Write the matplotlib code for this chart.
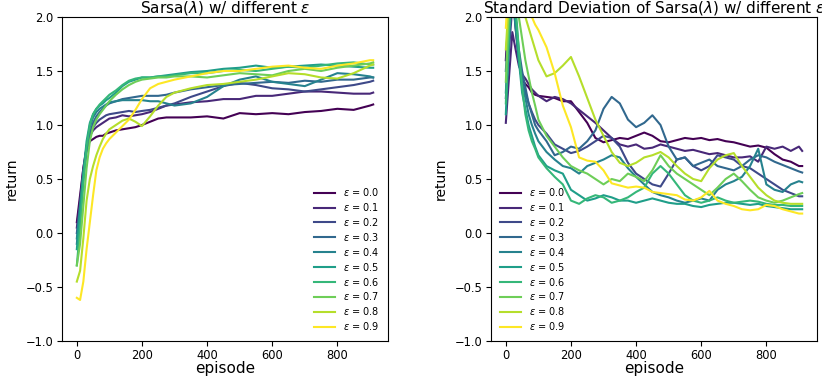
import matplotlib
matplotlib.use("Agg")
import matplotlib.pyplot as plt
import numpy as np

eps_labels = ["0.0", "0.1", "0.2", "0.3", "0.4", "0.5", "0.6", "0.7", "0.8", "0.9"]

# ---- left panel: mean return ----
ep_left = [0, 10, 20, 30, 40, 50, 60, 70, 80, 90, 100, 120, 140, 160, 180, 200, 225, 250, 275, 300,
           350, 400, 450, 500, 550, 600, 650, 700, 750, 800, 850, 900, 910]

ret_e00 = [0.10, 0.35, 0.60, 0.78, 0.85, 0.87, 0.89, 0.90, 0.90, 0.92, 0.93, 0.95, 0.96, 0.97, 0.98, 1.00, 1.03, 1.06, 1.07, 1.07,
           1.07, 1.08, 1.06, 1.11, 1.10, 1.11, 1.10, 1.12, 1.13, 1.15, 1.14, 1.18, 1.19]
ret_e01 = [0.05, 0.30, 0.60, 0.80, 0.90, 0.95, 0.98, 1.00, 1.02, 1.04, 1.06, 1.07, 1.09, 1.08, 1.09, 1.10, 1.12, 1.15, 1.18, 1.19,
           1.21, 1.22, 1.24, 1.24, 1.27, 1.27, 1.29, 1.31, 1.31, 1.30, 1.29, 1.29, 1.30]
ret_e02 = [0.00, 0.25, 0.55, 0.78, 0.92, 0.98, 1.02, 1.05, 1.07, 1.09, 1.10, 1.11, 1.12, 1.13, 1.12, 1.13, 1.14, 1.16, 1.18, 1.20,
           1.26, 1.31, 1.36, 1.39, 1.37, 1.34, 1.33, 1.31, 1.33, 1.35, 1.37, 1.40, 1.41]
ret_e03 = [-0.10, 0.20, 0.50, 0.75, 0.92, 1.02, 1.08, 1.12, 1.15, 1.18, 1.20, 1.22, 1.24, 1.25, 1.26, 1.27, 1.27, 1.27, 1.28, 1.30,
           1.33, 1.35, 1.37, 1.38, 1.39, 1.40, 1.39, 1.41, 1.40, 1.42, 1.42, 1.44, 1.44]
ret_e04 = [-0.05, 0.25, 0.55, 0.80, 0.98, 1.07, 1.12, 1.15, 1.17, 1.19, 1.21, 1.22, 1.23, 1.23, 1.23, 1.23, 1.22, 1.22, 1.20, 1.18,
           1.20, 1.26, 1.36, 1.42, 1.45, 1.40, 1.38, 1.36, 1.42, 1.48, 1.47, 1.45, 1.44]
ret_e05 = [-0.15, 0.20, 0.55, 0.85, 1.02, 1.10, 1.15, 1.18, 1.20, 1.23, 1.25, 1.30, 1.36, 1.40, 1.42, 1.44, 1.44, 1.45, 1.46, 1.47,
           1.49, 1.50, 1.52, 1.53, 1.55, 1.53, 1.54, 1.55, 1.56, 1.55, 1.54, 1.53, 1.53]
ret_e06 = [-0.30, 0.05, 0.45, 0.80, 1.00, 1.10, 1.15, 1.19, 1.22, 1.25, 1.28, 1.32, 1.37, 1.41, 1.43, 1.44, 1.44, 1.45, 1.45, 1.46,
           1.48, 1.48, 1.50, 1.51, 1.50, 1.52, 1.54, 1.53, 1.55, 1.57, 1.58, 1.56, 1.56]
ret_e07 = [-0.30, -0.10, 0.25, 0.60, 0.85, 0.98, 1.05, 1.10, 1.14, 1.18, 1.22, 1.28, 1.33, 1.37, 1.40, 1.42, 1.43, 1.44, 1.44, 1.45,
           1.45, 1.44, 1.46, 1.48, 1.47, 1.46, 1.50, 1.52, 1.50, 1.53, 1.55, 1.57, 1.58]
ret_e08 = [-0.45, -0.35, -0.05, 0.30, 0.50, 0.62, 0.72, 0.80, 0.87, 0.92, 0.96, 1.00, 1.04, 1.06, 1.03, 0.99, 1.08, 1.18, 1.26, 1.30,
           1.34, 1.37, 1.38, 1.40, 1.42, 1.45, 1.48, 1.47, 1.44, 1.43, 1.48, 1.55, 1.56]
ret_e09 = [-0.60, -0.62, -0.45, -0.15, 0.10, 0.35, 0.58, 0.70, 0.78, 0.83, 0.87, 0.93, 0.99, 1.05, 1.14, 1.24, 1.34, 1.38, 1.40, 1.42,
           1.45, 1.48, 1.50, 1.50, 1.52, 1.54, 1.55, 1.53, 1.52, 1.55, 1.57, 1.60, 1.60]

# ---- right panel: standard deviation ----
ep_right = [0, 10, 20, 30, 40, 50, 60, 70, 80, 90, 100, 125, 150, 175, 200, 225, 250, 275, 300, 325, 350,
            375, 400, 425, 450, 475, 500, 525, 550, 575, 600, 625, 650, 675, 700, 725, 750, 775, 800, 825,
            850, 875, 900, 910]

std_e00 = [1.60, 2.10, 2.30, 1.90, 1.60, 1.42, 1.38, 1.35, 1.30, 1.28, 1.27, 1.26, 1.25, 1.22, 1.22, 1.12, 1.02, 0.88, 0.84, 0.86, 0.88,
           0.87, 0.90, 0.93, 0.90, 0.85, 0.84, 0.86, 0.88, 0.87, 0.88, 0.86, 0.87, 0.85, 0.84, 0.82, 0.80, 0.81, 0.79, 0.73,
           0.68, 0.66, 0.62, 0.62]
std_e01 = [1.02, 1.45, 1.86, 1.70, 1.55, 1.47, 1.43, 1.38, 1.33, 1.30, 1.27, 1.22, 1.26, 1.24, 1.20, 1.14, 1.08, 1.02, 0.95, 0.88, 0.82,
           0.80, 0.82, 0.78, 0.79, 0.82, 0.80, 0.78, 0.76, 0.77, 0.75, 0.73, 0.74, 0.72, 0.70, 0.70, 0.71, 0.66, 0.80, 0.78,
           0.80, 0.76, 0.80, 0.76]
std_e02 = [1.25, 1.70, 2.10, 2.00, 1.60, 1.40, 1.30, 1.20, 1.12, 1.05, 1.00, 0.92, 0.82, 0.78, 0.74, 0.76, 0.80, 0.85, 0.90, 0.88, 0.80,
           0.65, 0.55, 0.50, 0.45, 0.43, 0.55, 0.68, 0.70, 0.62, 0.58, 0.62, 0.72, 0.70, 0.68, 0.62, 0.60, 0.55, 0.50, 0.45,
           0.40, 0.37, 0.34, 0.34]
std_e03 = [1.50, 2.00, 2.40, 2.00, 1.70, 1.50, 1.35, 1.20, 1.10, 1.00, 0.95, 0.85, 0.72, 0.75, 0.80, 0.78, 0.85, 0.95, 1.15, 1.26, 1.20,
           1.05, 0.98, 1.02, 1.09, 1.00, 0.80, 0.68, 0.70, 0.62, 0.65, 0.68, 0.62, 0.60, 0.58, 0.62, 0.68, 0.72, 0.70, 0.66,
           0.63, 0.60, 0.57, 0.56]
std_e04 = [1.30, 1.90, 2.20, 1.90, 1.60, 1.40, 1.25, 1.10, 1.00, 0.92, 0.85, 0.75, 0.68, 0.62, 0.60, 0.55, 0.62, 0.65, 0.68, 0.72, 0.70,
           0.60, 0.52, 0.45, 0.38, 0.35, 0.33, 0.30, 0.28, 0.30, 0.32, 0.30, 0.40, 0.45, 0.48, 0.52, 0.62, 0.78, 0.45, 0.40,
           0.38, 0.45, 0.48, 0.47]
std_e05 = [1.10, 1.80, 2.30, 2.00, 1.60, 1.30, 1.15, 1.00, 0.90, 0.80, 0.72, 0.62, 0.58, 0.55, 0.40, 0.35, 0.30, 0.32, 0.35, 0.33, 0.30,
           0.30, 0.28, 0.30, 0.32, 0.30, 0.28, 0.27, 0.27, 0.25, 0.24, 0.26, 0.27, 0.28, 0.28, 0.27, 0.26, 0.27, 0.25, 0.24,
           0.23, 0.22, 0.22, 0.22]
std_e06 = [1.20, 1.90, 2.30, 2.10, 1.70, 1.35, 1.10, 0.95, 0.85, 0.78, 0.70, 0.60, 0.52, 0.45, 0.30, 0.27, 0.32, 0.35, 0.33, 0.28, 0.30,
           0.33, 0.38, 0.42, 0.55, 0.62, 0.55, 0.45, 0.35, 0.30, 0.28, 0.30, 0.33, 0.30, 0.28, 0.29, 0.30, 0.29, 0.27, 0.26,
           0.26, 0.25, 0.25, 0.25]
std_e07 = [1.40, 2.10, 2.40, 2.20, 2.00, 1.80, 1.60, 1.45, 1.30, 1.18, 1.05, 0.90, 0.80, 0.70, 0.62, 0.58, 0.55, 0.50, 0.45, 0.50, 0.48,
           0.55, 0.52, 0.48, 0.58, 0.72, 0.62, 0.55, 0.50, 0.45, 0.40, 0.35, 0.42, 0.50, 0.55, 0.48, 0.40, 0.33, 0.30, 0.28,
           0.30, 0.33, 0.36, 0.37]
std_e08 = [1.70, 2.20, 2.50, 2.30, 2.20, 2.10, 2.00, 1.90, 1.80, 1.70, 1.60, 1.45, 1.48, 1.55, 1.63, 1.45, 1.25, 1.05, 0.90, 0.75, 0.65,
           0.62, 0.65, 0.70, 0.72, 0.75, 0.70, 0.62, 0.55, 0.50, 0.48, 0.60, 0.68, 0.72, 0.74, 0.62, 0.52, 0.42, 0.35, 0.30,
           0.28, 0.27, 0.27, 0.27]
std_e09 = [1.90, 2.40, 2.60, 2.50, 2.40, 2.30, 2.20, 2.10, 2.00, 1.93, 1.88, 1.72, 1.48, 1.18, 0.98, 0.70, 0.67, 0.66, 0.58, 0.46, 0.44,
           0.42, 0.43, 0.42, 0.38, 0.37, 0.36, 0.35, 0.31, 0.30, 0.33, 0.39, 0.30, 0.27, 0.25, 0.22, 0.21, 0.22, 0.26, 0.25,
           0.22, 0.20, 0.18, 0.18]

returns = [ret_e00, ret_e01, ret_e02, ret_e03, ret_e04, ret_e05, ret_e06, ret_e07, ret_e08, ret_e09]
stds = [std_e00, std_e01, std_e02, std_e03, std_e04, std_e05, std_e06, std_e07, std_e08, std_e09]

colors = plt.cm.viridis(np.linspace(0, 1, len(eps_labels)))

fig = plt.figure(figsize=(8.22, 3.77), dpi=100)
ax1 = fig.add_axes([62 / 822, 1 - 341 / 377, 326 / 822, 324 / 377])
ax2 = fig.add_axes([491 / 822, 1 - 341 / 377, 326 / 822, 324 / 377])

for i, lab in enumerate(eps_labels):
    ax1.plot(ep_left, returns[i], color=colors[i], lw=1.5, label=r"$\epsilon$ = " + lab)
    ax2.plot(ep_right, stds[i], color=colors[i], lw=1.5, label=r"$\epsilon$ = " + lab)

for ax, title, loc in [(ax1, r"Sarsa($\lambda$) w/ different $\epsilon$", "lower right"),
                       (ax2, r"Standard Deviation of Sarsa($\lambda$) w/ different $\epsilon$", "lower left")]:
    ax.set_ylim(-1.0, 2.0)
    ax.set_xlim(-45.5, 955.5)
    ax.set_yticks(np.arange(-1.0, 2.01, 0.5))
    ax.set_xticks([0, 200, 400, 600, 800])
    ax.tick_params(labelsize=8.3, pad=2.5)
    ax.set_xlabel("episode", fontsize=11, labelpad=-1)
    ax.set_ylabel("return", fontsize=10, labelpad=5)
    ax.set_title(title, fontsize=11, pad=3)
    ax.legend(loc=loc, fontsize=7, frameon=False, handlelength=2.2, labelspacing=0.3)

fig.savefig("out.png", dpi=100)
